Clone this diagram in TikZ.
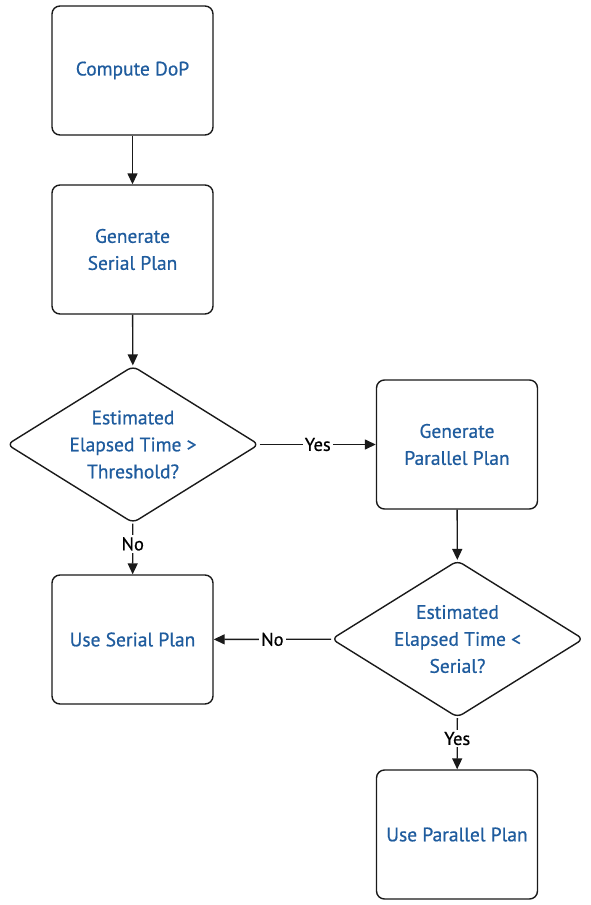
\documentclass[tikz,border=0pt]{standalone}
\usepackage{fontspec}
\setmainfont{PT Sans}
\newfontfamily\medfont{PT Sans}[FakeBold=0.6]
\usetikzlibrary{shapes.geometric,arrows.meta}
\definecolor{txtblue}{HTML}{1F5C9E}
\definecolor{linec}{HTML}{1A1A1A}
\tikzset{
  procbox/.style={draw=linec, line width=1.4pt, rounded corners=8pt, minimum width=161pt, minimum height=129pt, inner sep=0pt, align=center, text=txtblue, font=\medfont\fontsize{19.5}{27}\selectfont},
  decbox/.style={draw=linec, line width=1.4pt, diamond, shape aspect=1.6, rounded corners=6pt, minimum width=252pt, minimum height=157pt, inner sep=0pt, align=center, text=txtblue, font=\medfont\fontsize{19.5}{27}\selectfont},
  conn/.style={draw=linec, line width=1.4pt, -{Triangle[length=11pt,width=10pt]}},
  lbl/.style={fill=white, inner sep=2pt, text=black, font=\medfont\fontsize{18.5}{20}\selectfont}
}
\begin{document}
\begin{tikzpicture}[x=1pt,y=-1pt]
\useasboundingbox[fill=white] (0,0) rectangle (590,905);
\node[procbox] (dop) at (132.5,70.5) {Compute DoP};
\node[procbox] (serial) at (132.5,249.5) {Generate\\Serial Plan};
\node[decbox] (d1) at (133,444.5) {Estimated\\Elapsed Time >\\Threshold?};
\node[procbox] (par) at (457,444.5) {Generate\\Parallel Plan};
\node[decbox] (d2) at (457.5,639) {Estimated\\Elapsed Time <\\Serial?};
\node[procbox] (useser) at (132.5,639.5) {Use Serial Plan};
\node[procbox] (usepar) at (457,834.5) {Use Parallel Plan};
\draw[conn] (dop) -- (serial);
\draw[conn] (serial) -- (d1);
\draw[conn] (d1) -- node[lbl] {Yes} (par);
\draw[conn] (d1) -- node[lbl, pos=0.4] {No} (useser);
\draw[conn] (par) -- (d2);
\draw[conn] (d2) -- node[lbl] {No} (useser);
\draw[conn] (d2) -- node[lbl, pos=0.4] {Yes} (usepar);
\end{tikzpicture}
\end{document}
